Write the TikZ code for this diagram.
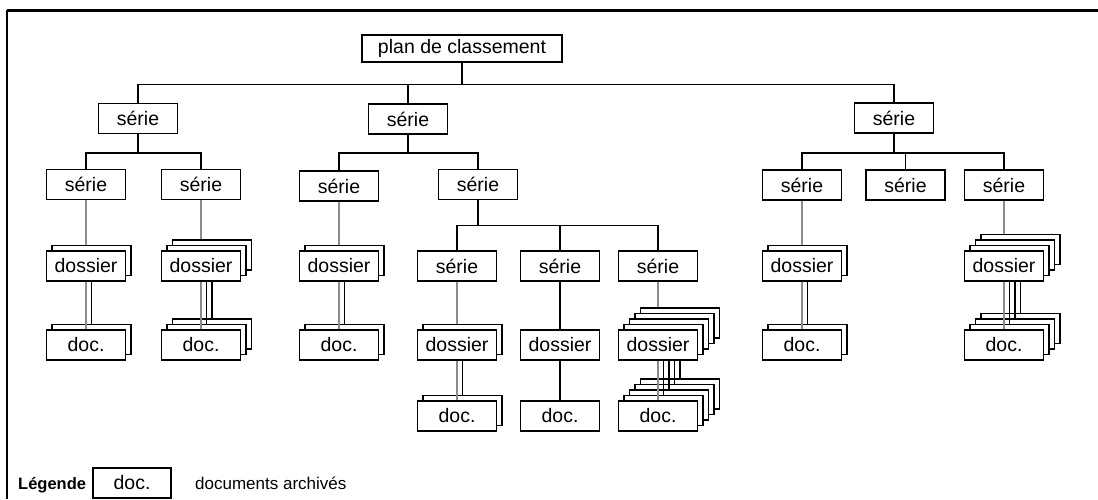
\documentclass[tikz,border=0pt]{standalone}
\usepackage{fontspec}
\setmainfont{Liberation Sans}
\usetikzlibrary{calc,backgrounds}
\tikzset{boite/.style={draw,fill=white,line width=1.8pt,minimum width=79pt,minimum height=30pt,inner sep=0pt,font=\fontsize{19.5}{22}\selectfont}}
\tikzset{branche/.style={line width=1.6pt}}
\tikzset{lien/.style={line width=1.3pt,black!45}}
\tikzset{lien fonce/.style={line width=1.3pt,black}}

\newcommand\pile[5]{%
  \foreach \k in {#5,...,1}
    \node[boite] at (#2+\k*5.5,#3-\k*5.5) {};
  \node[boite] (#1) at (#2,#3) {#4};}

\newcommand\liens[3]{%
  \draw[lien] (#1.south) -- (#2.north);
  \foreach \k in {2,...,#3}
    \draw[lien fonce] ($(#1.south)+(\k*5.5-5.5,0)$) -- ($(#2.north)+(\k*5.5-5.5,5.5-\k*5.5)$);}

\begin{document}
\begin{tikzpicture}[x=1pt,y=-1pt]
\useasboundingbox (0,0) rectangle (1098,499);
\draw[line width=3pt] (7,10) -- (1098,10);
\draw[line width=2.4pt] (7,10) -- (7,499);

\node[boite,minimum width=200pt,minimum height=27pt] (plan) at (462,48.5) {plan de classement};
\node[boite] (s1) at (138,118.5) {série};
\node[boite] (s2) at (408,119) {série};
\node[boite] (s3) at (894,118) {série};

\node[boite] (s11) at (86,184.5) {série};
\node[boite] (s12) at (201,184.5) {série};
\node[boite] (s21) at (339,186) {série};
\node[boite] (s22) at (478,184.5) {série};
\node[boite] (s31) at (802,185) {série};
\node[boite] (s32) at (905.5,185) {série};
\node[boite] (s33) at (1004,185) {série};

\node[boite] (s221) at (457,266) {série};
\node[boite] (s222) at (560,266) {série};
\node[boite] (s223) at (658,266) {série};

\pile{d11}{86}{266}{dossier}{1}
\pile{d12}{201}{266}{dossier}{2}
\pile{d21}{339}{266}{dossier}{1}
\pile{d31}{802}{266}{dossier}{1}
\pile{d33}{1004}{266}{dossier}{3}
\pile{d221}{457}{345}{dossier}{1}
\node[boite] (d222) at (560,345) {dossier};
\pile{d223}{658}{345}{dossier}{4}

\pile{c11}{86}{345}{doc.}{1}
\pile{c12}{201}{345}{doc.}{2}
\pile{c21}{339}{345}{doc.}{1}
\pile{c31}{802}{345}{doc.}{1}
\pile{c33}{1004}{345}{doc.}{3}
\pile{c221}{457}{416}{doc.}{1}
\node[boite] (c222) at (560,416) {doc.};
\pile{c223}{658}{416}{doc.}{4}

\draw[branche] (plan.south) -- ++(0,21.5) coordinate (f0);
\foreach \n in {s1,s2,s3} \draw[branche] (\n.north) |- (f0);
\draw[branche] (s1.south) -- ++(0,18.5) coordinate (f1);
\foreach \n in {s11,s12} \draw[branche] (\n.north) |- (f1);
\draw[branche] (s2.south) -- ++(0,18) coordinate (f2);
\foreach \n in {s21,s22} \draw[branche] (\n.north) |- (f2);
\draw[branche] (s3.south) -- ++(0,19) coordinate (f3);
\foreach \n in {s31,s32,s33} \draw[branche] (\n.north) |- (f3);
\draw[branche] (s22.south) -- ++(0,25) coordinate (f22);
\foreach \n in {s221,s222,s223} \draw[branche] (\n.north) |- (f22);

\begin{scope}[on background layer]
\foreach \a/\b in {s11/d11,s12/d12,s21/d21,s31/d31,s33/d33,s221/d221,s223/d223}
  \draw[lien] (\a) -- (\b);
\end{scope}
\draw[lien fonce] (s222) -- (d222);
\draw[lien fonce] (d222) -- (c222);

\liens{d11}{c11}{2}
\liens{d12}{c12}{3}
\liens{d21}{c21}{2}
\liens{d31}{c31}{2}
\liens{d33}{c33}{4}
\liens{d221}{c221}{2}
\liens{d223}{c223}{5}

\node[anchor=base west,inner sep=0pt,font=\fontsize{16.5}{20}\selectfont\bfseries] (leg) at (18,489) {Légende};
\node[boite,minimum width=78pt] (legdoc) at (132,483) {doc.};
\node[anchor=base west,inner sep=0pt,font=\fontsize{17}{20}\selectfont] (legtxt) at (195,489) {documents archivés};
\end{tikzpicture}
\end{document}
